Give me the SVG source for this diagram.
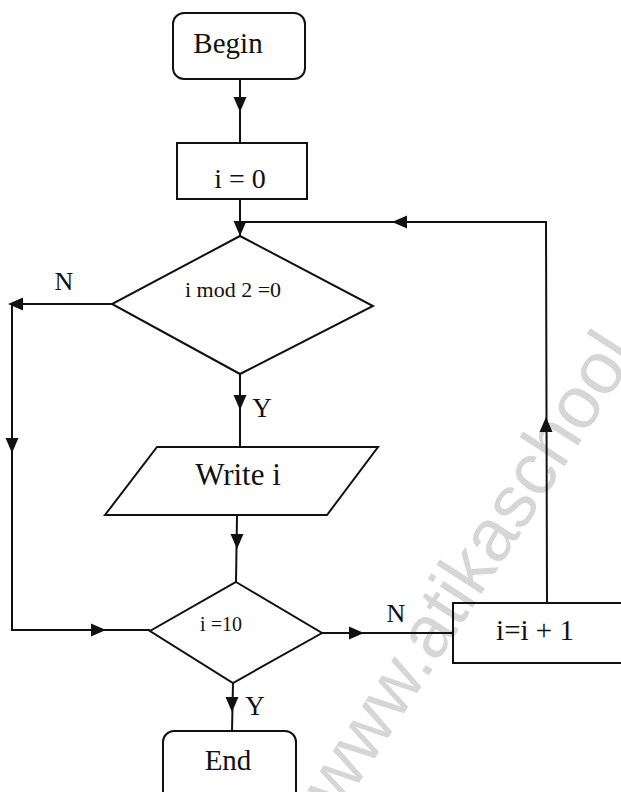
<svg xmlns="http://www.w3.org/2000/svg" xmlns:xlink="http://www.w3.org/1999/xlink" width="621" height="792" viewBox="0 0 621 792">
<style>
.shape{fill:none;stroke:#111;stroke-width:2}
.line{fill:none;stroke:#111;stroke-width:2}
.t{font-family:"Liberation Serif","Times New Roman",serif;fill:#111;text-anchor:middle}
.wm{font-family:"Liberation Sans",Arial,sans-serif;fill:#d6d6d6;font-size:74px}
</style>
<defs>
<path id="ah" d="M0,0 L-15,-6.5 L-15,6.5 Z" fill="#111"/>
</defs>
<rect width="621" height="792" fill="#fff"/>
<text class="wm" transform="translate(340,812) rotate(-57)">www.atikaschool</text>
<g id="connectors">
<path class="line" d="M240,79 L240,143"/>
<path class="line" d="M240,199 L240,236"/>
<path class="line" d="M547,603 L546,222 L240,222"/>
<path class="line" d="M112,304 L12,304 L12,630 L150,630"/>
<path class="line" d="M240,374 L240,447"/>
<path class="line" d="M237,515 L236,582"/>
<path class="line" d="M322,633 L453,633"/>
<path class="line" d="M233,683 L232,731"/>
<use xlink:href="#ah" transform="translate(240,112) rotate(90)"/>
<use xlink:href="#ah" transform="translate(240,236) rotate(90)"/>
<use xlink:href="#ah" transform="translate(392,222) rotate(180)"/>
<use xlink:href="#ah" transform="translate(546,417) rotate(-90)"/>
<use xlink:href="#ah" transform="translate(8,304) rotate(180)"/>
<use xlink:href="#ah" transform="translate(12,453) rotate(90)"/>
<use xlink:href="#ah" transform="translate(240,410) rotate(90)"/>
<use xlink:href="#ah" transform="translate(237,549) rotate(90)"/>
<use xlink:href="#ah" transform="translate(106,630)"/>
<use xlink:href="#ah" transform="translate(364,633)"/>
<use xlink:href="#ah" transform="translate(232,712) rotate(90)"/>
<text class="t" x="64" y="290" font-size="26">N</text>
<text class="t" x="262" y="417" font-size="27">Y</text>
<text class="t" x="396" y="622" font-size="26">N</text>
<text class="t" x="255" y="715" font-size="27">Y</text>
</g>
<g id="begin">
<rect class="shape" x="173" y="13" width="132" height="66" rx="11"/>
<text class="t" x="228" y="53" font-size="29">Begin</text>
</g>
<g id="init">
<rect class="shape" x="177" y="143" width="130" height="56"/>
<text class="t" x="240" y="188" font-size="28">i = 0</text>
</g>
<g id="mod">
<polygon class="shape" points="240,236 373,306 240,374 112,304"/>
<text class="t" x="233" y="297" font-size="22">i  mod 2 =0</text>
</g>
<g id="write">
<polygon class="shape" points="157,447 378,447 327,515 105,515"/>
<text class="t" x="238" y="485" font-size="31">Write i</text>
</g>
<g id="test">
<polygon class="shape" points="236,582 322,633 233,683 150,631"/>
<text class="t" x="221" y="631" font-size="20">i =10</text>
</g>
<g id="incr">
<rect class="shape" x="453" y="603" width="180" height="60"/>
<text class="t" x="535" y="640" font-size="29">i=i + 1</text>
</g>
<g id="end">
<rect class="shape" x="163" y="731" width="133" height="80" rx="11"/>
<text class="t" x="228" y="770" font-size="29">End</text>
</g>
</svg>
